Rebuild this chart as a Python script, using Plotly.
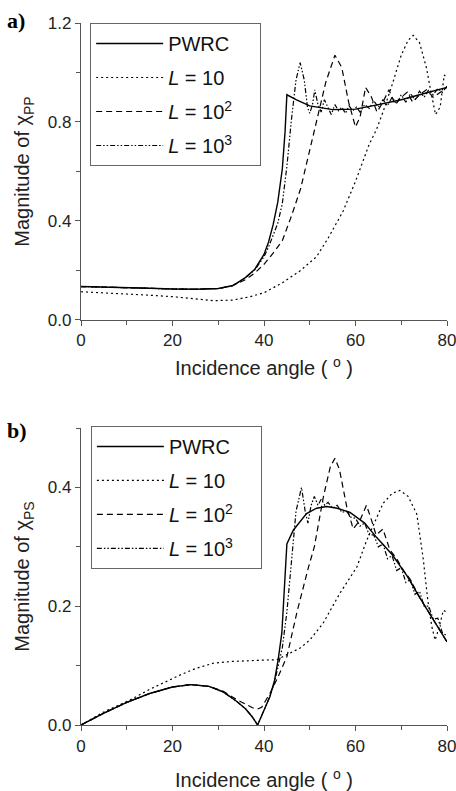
import plotly.graph_objects as go

# ---------------- Panel a: magnitude of chi_PP ----------------
a_pwrc_x = [0, 5, 10, 15, 20, 25, 30, 33, 34, 36, 38, 40, 41, 42, 43, 44, 44.6, 45, 47, 50, 55, 60, 65, 70, 75, 80]
a_pwrc_y = [0.135, 0.133, 0.132, 0.128, 0.125, 0.124, 0.127, 0.138, 0.148, 0.172, 0.205, 0.265, 0.315, 0.385, 0.475, 0.61, 0.76, 0.91, 0.89, 0.865, 0.85, 0.852, 0.87, 0.89, 0.915, 0.94]

a_l10_x = [0, 5, 10, 15, 20, 25, 29, 33, 37, 40, 44, 48, 51.5, 54, 57.3, 60, 61.7, 63, 64.6, 66, 68, 70, 71.5, 72.6, 74, 75.5, 76.5, 77.5, 78.5, 79.4, 80]
a_l10_y = [0.114, 0.11, 0.105, 0.1, 0.094, 0.085, 0.078, 0.08, 0.094, 0.11, 0.15, 0.2, 0.256, 0.33, 0.44, 0.56, 0.65, 0.71, 0.77, 0.84, 0.95, 1.07, 1.13, 1.15, 1.12, 1.02, 0.92, 0.83, 0.86, 0.99, 0.98]

a_l100_x = [0, 5, 10, 15, 20, 25, 30, 33, 36, 38, 40, 42, 44, 46, 48, 50, 52, 53.5, 55.5, 57, 58.5, 60, 61, 62.2, 63.5, 64.7, 66, 67.3, 68.7, 70, 71.3, 72.5, 74, 75.5, 77, 78.5, 80]
a_l100_y = [0.135, 0.133, 0.132, 0.128, 0.125, 0.124, 0.127, 0.137, 0.163, 0.19, 0.225, 0.27, 0.32, 0.42, 0.53, 0.69, 0.85, 0.96, 1.07, 1.02, 0.88, 0.78, 0.82, 0.94, 0.9, 0.84, 0.88, 0.93, 0.87, 0.9, 0.92, 0.88, 0.91, 0.93, 0.9, 0.92, 0.94]

a_l1000_x = [0, 5, 10, 15, 20, 25, 30, 33, 34, 36, 38, 40, 41, 42, 43, 44, 45, 46, 47, 47.9, 48.8, 49.5, 50, 50.6, 51.1, 51.8, 52.5, 53.2, 54, 54.7, 55.5, 56.3, 57, 57.8, 58.6, 59.4, 60.2, 61, 62, 63, 64, 65, 66, 67, 68, 69, 70, 71, 72, 73, 74, 75, 76, 77, 78, 79, 80]
a_l1000_y = [0.135, 0.133, 0.132, 0.128, 0.125, 0.124, 0.127, 0.138, 0.148, 0.172, 0.203, 0.255, 0.295, 0.34, 0.39, 0.47, 0.62, 0.81, 0.97, 1.04, 0.97, 0.86, 0.835, 0.87, 0.93, 0.87, 0.84, 0.89, 0.86, 0.83, 0.87, 0.845, 0.86, 0.835, 0.865, 0.845, 0.86, 0.84, 0.87, 0.855, 0.885, 0.86, 0.89, 0.865, 0.9, 0.875, 0.91, 0.88, 0.915, 0.89, 0.925, 0.9, 0.93, 0.91, 0.935, 0.92, 0.945]

# ---------------- Panel b: magnitude of chi_PS ----------------
b_pwrc_x = [0, 5, 10, 15, 20, 24, 28, 31, 34, 36, 37.5, 38.6, 40, 41.3, 42.3, 43.1, 43.9, 44.6, 45, 46.4, 49.3, 51.5, 53.7, 56, 58.8, 62, 64.6, 68, 71.2, 74, 77, 80]
b_pwrc_y = [0.0, 0.02, 0.038, 0.053, 0.064, 0.068, 0.065, 0.056, 0.04, 0.027, 0.013, 0.0, 0.025, 0.048, 0.075, 0.11, 0.155, 0.244, 0.305, 0.328, 0.356, 0.365, 0.368, 0.365, 0.358, 0.34, 0.316, 0.287, 0.252, 0.215, 0.178, 0.14]

b_l10_x = [0, 5, 10.7, 15, 21.6, 25, 28.9, 33, 39.1, 42.8, 45.7, 48, 50, 52.9, 56.6, 60.3, 62.4, 66, 68, 69.7, 71.5, 73.4, 74.8, 75.8, 76.7, 77.4, 78.3, 79.2, 80]
b_l10_y = [0.0, 0.022, 0.042, 0.06, 0.084, 0.095, 0.104, 0.107, 0.109, 0.11, 0.121, 0.13, 0.143, 0.171, 0.222, 0.266, 0.31, 0.373, 0.39, 0.395, 0.385, 0.355, 0.28, 0.21, 0.165, 0.143, 0.165, 0.193, 0.19]

b_l100_x = [0, 5, 10, 15, 20, 24, 28, 31, 34, 36, 37.5, 38.6, 39.5, 41.3, 43, 45, 47.2, 49.7, 51, 53, 54.5, 55.5, 56.5, 58.1, 59.5, 61, 62.4, 63.5, 64.5, 66, 67.5, 69, 70.5, 72, 74, 76, 78, 80]
b_l100_y = [0.0, 0.02, 0.038, 0.053, 0.064, 0.068, 0.065, 0.057, 0.043, 0.035, 0.029, 0.027, 0.03, 0.053, 0.08, 0.115, 0.19, 0.265, 0.3, 0.385, 0.435, 0.449, 0.43, 0.367, 0.33, 0.345, 0.37, 0.345, 0.32, 0.33, 0.295, 0.28, 0.26, 0.245, 0.215, 0.19, 0.165, 0.14]

b_l1000_x = [0, 5, 10, 15, 20, 24, 28, 31, 34, 36, 37.5, 38.6, 40, 41.3, 42.3, 43.1, 44, 45, 46, 47, 48.2, 49, 49.6, 50.3, 51, 51.8, 52.5, 53.3, 54, 55, 56, 57, 58, 59, 60, 61, 62, 63, 64, 65, 66, 67, 68, 69, 70, 71, 72, 73, 74, 75, 76, 77, 78, 79, 80]
b_l1000_y = [0.0, 0.02, 0.038, 0.053, 0.064, 0.068, 0.065, 0.056, 0.04, 0.027, 0.013, 0.0, 0.025, 0.048, 0.072, 0.1, 0.13, 0.19, 0.28, 0.36, 0.4, 0.36, 0.34, 0.37, 0.385, 0.37, 0.38, 0.37, 0.375, 0.365, 0.37, 0.358, 0.36, 0.35, 0.348, 0.335, 0.34, 0.32, 0.32, 0.3, 0.305, 0.28, 0.285, 0.26, 0.265, 0.24, 0.245, 0.22, 0.225, 0.2, 0.2, 0.178, 0.18, 0.155, 0.15]

names = ["PWRC", "<i>L</i> = 10", "<i>L</i> = 10<sup>2</sup>", "<i>L</i> = 10<sup>3</sup>"]
dashes = ["solid", "2px,3px", "6px,4px", "5px,2px,1.5px,2px,1.5px,2px"]
widths = [1.4, 1.2, 1.2, 1.2]
PAD = "&nbsp;" * 4  # extra room on the right of the legend text

FONT = "Liberation Sans, Arial, sans-serif"

fig = go.Figure()

panel_a = [(a_pwrc_x, a_pwrc_y), (a_l10_x, a_l10_y), (a_l100_x, a_l100_y), (a_l1000_x, a_l1000_y)]
panel_b = [(b_pwrc_x, b_pwrc_y), (b_l10_x, b_l10_y), (b_l100_x, b_l100_y), (b_l1000_x, b_l1000_y)]

for i, (xs, ys) in enumerate(panel_a):
    fig.add_trace(go.Scatter(x=xs, y=ys, mode="lines", name=names[i] + PAD,
                             line=dict(color="black", width=widths[i], dash=dashes[i]),
                             xaxis="x", yaxis="y", legend="legend", legendgroup="a%d" % i))
for i, (xs, ys) in enumerate(panel_b):
    fig.add_trace(go.Scatter(x=xs, y=ys, mode="lines", name=names[i] + PAD,
                             line=dict(color="black", width=widths[i], dash=dashes[i]),
                             xaxis="x2", yaxis="y2", legend="legend2", legendgroup="b%d" % i))

axis_common = dict(showline=True, linecolor="#555", linewidth=1.2, ticks="outside",
                   ticklen=5, tickcolor="#555", tickwidth=1.2, showgrid=False, zeroline=False,
                   ticklabeloverflow="allow", automargin=False,
                   tickfont=dict(family=FONT, size=17, color="#222"))

xtitle = dict(text="Incidence angle ( <sup>o</sup> )", font=dict(family=FONT, size=20, color="#222"))

legend_common = dict(bgcolor="white", bordercolor="#666", borderwidth=1,
                     font=dict(family=FONT, size=20, color="#111"),
                     xanchor="left", yanchor="top", itemwidth=67,
                     traceorder="grouped", tracegroupgap=5)

fig.update_layout(
    width=456, height=791,
    margin=dict(l=81, r=9, t=23, b=66),
    paper_bgcolor="white", plot_bgcolor="white",
    showlegend=True,
    xaxis=dict(domain=[0, 1], range=[0, 80], tickvals=[0, 20, 40, 60, 80], anchor="y",
               minor=dict(ticks="outside", ticklen=4, dtick=10, tickcolor="#555"),
               title=dict(standoff=11, **xtitle), **axis_common),
    yaxis=dict(domain=[0.577, 1], range=[0, 1.2], tickvals=[0, 0.4, 0.8, 1.2],
               ticktext=["0.0", "0.4", "0.8", "1.2"], anchor="x",
               minor=dict(ticks="outside", ticklen=4, tickvals=[0.2, 0.6, 1.0], tickcolor="#555"),
               title=dict(text="Magnitude of χ<sub>PP</sub>", standoff=12,
                          font=dict(family=FONT, size=20, color="#222")), **axis_common),
    xaxis2=dict(domain=[0, 1], range=[0, 80], tickvals=[0, 20, 40, 60, 80], anchor="y2",
                minor=dict(ticks="outside", ticklen=4, dtick=10, tickcolor="#555"),
                title=dict(standoff=23, **xtitle), **axis_common),
    yaxis2=dict(domain=[0, 0.423], range=[0, 0.5], tickvals=[0, 0.2, 0.4],
                ticktext=["0.0", "0.2", "0.4"], anchor="x2",
                minor=dict(ticks="outside", ticklen=4, tickvals=[0.1, 0.3, 0.5], tickcolor="#555"),
                title=dict(text="Magnitude of χ<sub>PS</sub>", standoff=12,
                           font=dict(family=FONT, size=20, color="#222")), **axis_common),
    legend=dict(x=0.025, y=1.0, **legend_common),
    legend2=dict(x=0.027, y=0.426, **legend_common),
    annotations=[
        dict(text="<b>a)</b>", xref="paper", yref="paper", x=-0.208, y=1.004,
             xanchor="left", yanchor="middle", showarrow=False,
             font=dict(family="Liberation Serif, Times New Roman, serif", size=22, color="black")),
        dict(text="<b>b)</b>", xref="paper", yref="paper", x=-0.208, y=0.420,
             xanchor="left", yanchor="middle", showarrow=False,
             font=dict(family="Liberation Serif, Times New Roman, serif", size=22, color="black")),
    ],
)

fig.write_html("out.html")
